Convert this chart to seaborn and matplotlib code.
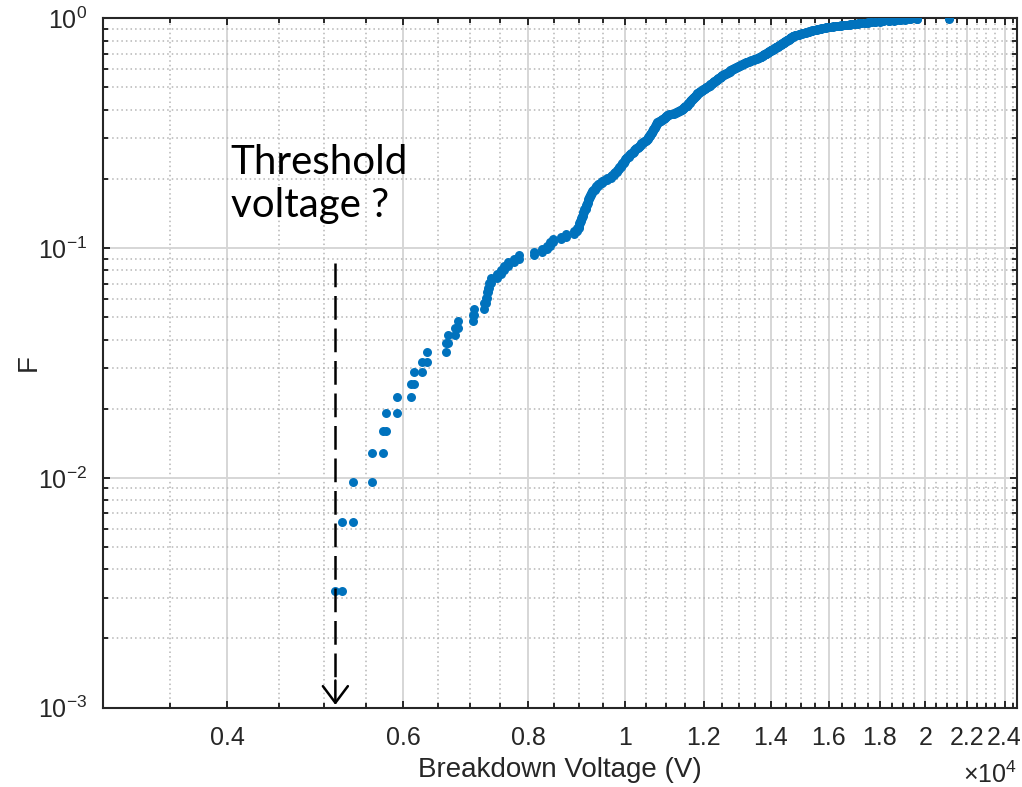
import numpy as np
import pandas as pd
import matplotlib
matplotlib.use("Agg")
import matplotlib.pyplot as plt
import seaborn as sns

# Sorted breakdown voltages (V) of the tested samples
voltages = [
    5130, 5205, 5345, 5580, 5725, 5770, 5910, 6105, 6145, 6270,
    6330, 6625, 6645, 6755, 6800, 7050, 7060, 7220, 7255, 7270,
    7290, 7310, 7340, 7455, 7510, 7570, 7640, 7740, 7830, 8110,
    8270, 8365, 8420, 8465, 8625, 8725, 8885, 8965, 8990, 9005,
    9020, 9030, 9050, 9070, 9090, 9110, 9135, 9150, 9165, 9180,
    9195, 9210, 9230, 9245, 9270, 9300, 9330, 9350, 9390, 9440,
    9490, 9525, 9600, 9680, 9700, 9745, 9780, 9810, 9840, 9870,
    9905, 9920, 9940, 9970, 9990, 10010, 10035, 10060, 10090, 10120,
    10150, 10180, 10210, 10240, 10270, 10300, 10330, 10360, 10390, 10420,
    10450, 10490, 10530, 10545, 10560, 10575, 10590, 10605, 10620, 10635,
    10650, 10665, 10680, 10695, 10710, 10720, 10735, 10750, 10760, 10775,
    10810, 10840, 10870, 10900, 10935, 10965, 10995, 11030, 11080, 11140,
    11200, 11260, 11310, 11350, 11375, 11400, 11430, 11465, 11500, 11530,
    11550, 11565, 11580, 11595, 11610, 11630, 11645, 11660, 11680, 11700,
    11715, 11735, 11750, 11770, 11785, 11800, 11820, 11845, 11870, 11900,
    11930, 11955, 11980, 12010, 12040, 12065, 12095, 12115, 12135, 12160,
    12180, 12205, 12230, 12250, 12270, 12295, 12320, 12340, 12360, 12385,
    12405, 12430, 12450, 12470, 12495, 12525, 12550, 12575, 12600, 12625,
    12650, 12680, 12705, 12730, 12755, 12780, 12805, 12830, 12860, 12890,
    12920, 12950, 12985, 13015, 13045, 13075, 13105, 13140, 13170, 13200,
    13230, 13260, 13305, 13345, 13385, 13425, 13470, 13510, 13550, 13590,
    13635, 13675, 13700, 13720, 13745, 13765, 13790, 13810, 13835, 13860,
    13880, 13905, 13925, 13950, 13975, 13995, 14020, 14040, 14065, 14090,
    14110, 14135, 14155, 14180, 14205, 14225, 14250, 14275, 14295, 14320,
    14340, 14360, 14380, 14400, 14420, 14440, 14460, 14480, 14500, 14525,
    14545, 14565, 14585, 14605, 14625, 14645, 14665, 14685, 14705, 14725,
    14745, 14765, 14810, 14855, 14900, 14945, 14990, 15035, 15080, 15125,
    15170, 15210, 15255, 15300, 15345, 15400, 15455, 15510, 15565, 15620,
    15675, 15730, 15785, 15840, 15895, 15950, 16055, 16160, 16260, 16365,
    16470, 16570, 16680, 16790, 16895, 17005, 17110, 17220, 17400, 17520,
    17620, 17800, 18000, 18155, 18400, 18580, 18700, 18880, 19100, 19320,
    19600, 21110,
]

x_major = [4000, 6000, 8000, 10000, 12000, 14000, 16000, 18000, 20000, 22000, 24000]
x_major_labels = ["0.4", "0.6", "0.8", "1", "1.2", "1.4", "1.6", "1.8", "2", "2.2", "2.4"]
y_major = [1e-3, 1e-2, 1e-1, 1e0]
y_major_labels = [r"$10^{-3}$", r"$10^{-2}$", r"$10^{-1}$", r"$10^{0}$"]
x_label = "Breakdown Voltage (V)"
y_label = "F"
note_text = "Threshold\nvoltage ?"

# Empirical cumulative fraction, drawn as the corner points of a staircase
v = np.array(voltages, dtype=float)
n = len(v)
F = np.arange(1, n + 1) / n
stairs = pd.DataFrame({
    "V": np.concatenate([v, v[1:]]),
    "F": np.concatenate([F, F[:-1]]),
})

sns.set_style("ticks")
plt.rcParams["font.family"] = ["Liberation Sans", "DejaVu Sans"]
plt.rcParams["mathtext.fontset"] = "custom"
plt.rcParams["mathtext.rm"] = "Liberation Sans"
plt.rcParams["mathtext.it"] = "Liberation Sans:italic"

ink = "#262626"
fig = plt.figure(figsize=(10.22, 7.87), dpi=100)
ax = fig.add_axes([0.1005, 0.1008, 0.8946, 0.876])

sns.scatterplot(data=stairs, x="V", y="F", ax=ax, color="#0072BD",
                s=42, linewidth=0, marker="o", zorder=3, legend=False)

ax.set_xscale("log")
ax.set_yscale("log")
ax.set_xlim(3000, 24700)
ax.set_ylim(1e-3, 1)

ax.set_xticks(x_major)
ax.set_xticklabels(x_major_labels)
x_minor = [m for m in range(3500, 24700, 500) if m not in x_major]
ax.set_xticks(x_minor, minor=True)
ax.xaxis.set_minor_formatter(matplotlib.ticker.NullFormatter())

ax.set_yticks(y_major)
ax.set_yticklabels(y_major_labels)
ax.yaxis.set_minor_locator(matplotlib.ticker.LogLocator(base=10, subs=np.arange(2, 10)))
ax.yaxis.set_minor_formatter(matplotlib.ticker.NullFormatter())

ax.grid(which="major", color="#d6d6d6", linestyle="-", linewidth=1.4, zorder=0)
ax.grid(which="minor", color="#b5b5b5", linestyle=(0, (1, 2.0)), linewidth=1.1, zorder=0)
ax.set_axisbelow(True)

for sp in ax.spines.values():
    sp.set_color(ink)
    sp.set_linewidth(1.5)
ax.tick_params(which="both", direction="in", top=True, right=True, color=ink, width=1.4)
ax.tick_params(which="major", length=5, labelsize=18, labelcolor=ink)
ax.tick_params(axis="x", which="major", pad=13)
ax.tick_params(axis="y", which="major", pad=11)
ax.tick_params(which="minor", length=3.5)

ax.set_xlabel(x_label, fontsize=20, color=ink, labelpad=5)
ax.set_ylabel(y_label, fontsize=20, color=ink)
ax.yaxis.set_label_coords(-0.067, 0.5)
ax.text(1.0, -0.097, r"$\times10^{4}$", transform=ax.transAxes, ha="right",
        va="center", fontsize=18, color=ink)

# Dashed pointer from the note down to the lowest measured voltage
x_thr = v[0]
ax.plot([x_thr, x_thr], [0.086, 1.25e-3], color="black", linewidth=1.8,
        linestyle=(0, (9.5, 3.5)), zorder=4)
ax.annotate("", xy=(x_thr, 1e-3), xytext=(x_thr, 1.35e-3),
            arrowprops=dict(arrowstyle="->,head_length=0.6,head_width=0.45",
                            color="black", lw=1.8, mutation_scale=20),
            zorder=4, annotation_clip=False)
ax.text(4030, 0.285, note_text, fontsize=29, family=["Lato", "DejaVu Sans"],
        color="black", ha="left", va="top", linespacing=1.22)

fig.savefig("out.png", dpi=100)
